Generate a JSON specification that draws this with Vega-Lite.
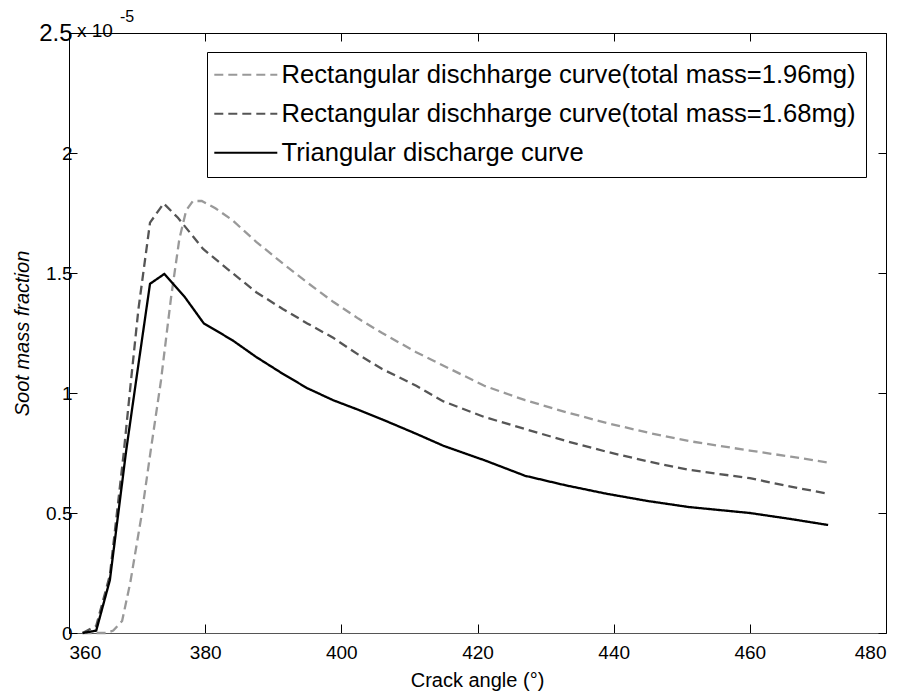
{
  "$schema": "https://vega.github.io/schema/vega-lite/v6.json",
  "width": 817,
  "height": 600,
  "autosize": {"type": "none"},
  "padding": {"left": 69, "top": 33, "right": 19, "bottom": 61},
  "background": "white",
  "config": {
    "view": {"stroke": "black", "strokeWidth": 1},
    "axis": {"labelFont": "Liberation Sans", "titleFont": "Liberation Sans", "labelColor": "black", "titleColor": "black", "titleFontWeight": "normal", "grid": false, "tickColor": "black", "domainColor": "black"},
    "axisY": {"labelFontSize": 19}
  },
  "data": {"values": [
    {"series": "Rectangular dischharge curve(total mass=1.96mg)", "angle": 362, "soot": 0},
    {"series": "Rectangular dischharge curve(total mass=1.96mg)", "angle": 365.5, "soot": 0},
    {"series": "Rectangular dischharge curve(total mass=1.96mg)", "angle": 366.5, "soot": 0.01},
    {"series": "Rectangular dischharge curve(total mass=1.96mg)", "angle": 367.8, "soot": 0.05},
    {"series": "Rectangular dischharge curve(total mass=1.96mg)", "angle": 369, "soot": 0.21},
    {"series": "Rectangular dischharge curve(total mass=1.96mg)", "angle": 370.6, "soot": 0.48},
    {"series": "Rectangular dischharge curve(total mass=1.96mg)", "angle": 372, "soot": 0.76},
    {"series": "Rectangular dischharge curve(total mass=1.96mg)", "angle": 373.5, "soot": 1.05},
    {"series": "Rectangular dischharge curve(total mass=1.96mg)", "angle": 375, "soot": 1.40},
    {"series": "Rectangular dischharge curve(total mass=1.96mg)", "angle": 376.2, "soot": 1.64},
    {"series": "Rectangular dischharge curve(total mass=1.96mg)", "angle": 377.2, "soot": 1.76},
    {"series": "Rectangular dischharge curve(total mass=1.96mg)", "angle": 378.2, "soot": 1.80},
    {"series": "Rectangular dischharge curve(total mass=1.96mg)", "angle": 379.5, "soot": 1.80},
    {"series": "Rectangular dischharge curve(total mass=1.96mg)", "angle": 381.5, "soot": 1.77},
    {"series": "Rectangular dischharge curve(total mass=1.96mg)", "angle": 384, "soot": 1.72},
    {"series": "Rectangular dischharge curve(total mass=1.96mg)", "angle": 387.5, "soot": 1.63},
    {"series": "Rectangular dischharge curve(total mass=1.96mg)", "angle": 391.4, "soot": 1.54},
    {"series": "Rectangular dischharge curve(total mass=1.96mg)", "angle": 395, "soot": 1.46},
    {"series": "Rectangular dischharge curve(total mass=1.96mg)", "angle": 398.8, "soot": 1.38},
    {"series": "Rectangular dischharge curve(total mass=1.96mg)", "angle": 402.5, "soot": 1.31},
    {"series": "Rectangular dischharge curve(total mass=1.96mg)", "angle": 406, "soot": 1.25},
    {"series": "Rectangular dischharge curve(total mass=1.96mg)", "angle": 411, "soot": 1.17},
    {"series": "Rectangular dischharge curve(total mass=1.96mg)", "angle": 416, "soot": 1.10},
    {"series": "Rectangular dischharge curve(total mass=1.96mg)", "angle": 421, "soot": 1.03},
    {"series": "Rectangular dischharge curve(total mass=1.96mg)", "angle": 427, "soot": 0.97},
    {"series": "Rectangular dischharge curve(total mass=1.96mg)", "angle": 433, "soot": 0.92},
    {"series": "Rectangular dischharge curve(total mass=1.96mg)", "angle": 439, "soot": 0.875},
    {"series": "Rectangular dischharge curve(total mass=1.96mg)", "angle": 445, "soot": 0.835},
    {"series": "Rectangular dischharge curve(total mass=1.96mg)", "angle": 451, "soot": 0.80},
    {"series": "Rectangular dischharge curve(total mass=1.96mg)", "angle": 460, "soot": 0.76},
    {"series": "Rectangular dischharge curve(total mass=1.96mg)", "angle": 466, "soot": 0.735},
    {"series": "Rectangular dischharge curve(total mass=1.96mg)", "angle": 471.5, "soot": 0.71},
    {"series": "Rectangular dischharge curve(total mass=1.68mg)", "angle": 362, "soot": 0},
    {"series": "Rectangular dischharge curve(total mass=1.68mg)", "angle": 364, "soot": 0.03},
    {"series": "Rectangular dischharge curve(total mass=1.68mg)", "angle": 366, "soot": 0.24},
    {"series": "Rectangular dischharge curve(total mass=1.68mg)", "angle": 368, "soot": 0.74},
    {"series": "Rectangular dischharge curve(total mass=1.68mg)", "angle": 369.1, "soot": 1.05},
    {"series": "Rectangular dischharge curve(total mass=1.68mg)", "angle": 370.2, "soot": 1.35},
    {"series": "Rectangular dischharge curve(total mass=1.68mg)", "angle": 371.9, "soot": 1.71},
    {"series": "Rectangular dischharge curve(total mass=1.68mg)", "angle": 373.9, "soot": 1.79},
    {"series": "Rectangular dischharge curve(total mass=1.68mg)", "angle": 376, "soot": 1.73},
    {"series": "Rectangular dischharge curve(total mass=1.68mg)", "angle": 378, "soot": 1.66},
    {"series": "Rectangular dischharge curve(total mass=1.68mg)", "angle": 379.7, "soot": 1.60},
    {"series": "Rectangular dischharge curve(total mass=1.68mg)", "angle": 384, "soot": 1.50},
    {"series": "Rectangular dischharge curve(total mass=1.68mg)", "angle": 387.5, "soot": 1.42},
    {"series": "Rectangular dischharge curve(total mass=1.68mg)", "angle": 391.4, "soot": 1.35},
    {"series": "Rectangular dischharge curve(total mass=1.68mg)", "angle": 395, "soot": 1.29},
    {"series": "Rectangular dischharge curve(total mass=1.68mg)", "angle": 398.8, "soot": 1.23},
    {"series": "Rectangular dischharge curve(total mass=1.68mg)", "angle": 402.5, "soot": 1.16},
    {"series": "Rectangular dischharge curve(total mass=1.68mg)", "angle": 406, "soot": 1.10},
    {"series": "Rectangular dischharge curve(total mass=1.68mg)", "angle": 411, "soot": 1.03},
    {"series": "Rectangular dischharge curve(total mass=1.68mg)", "angle": 415, "soot": 0.965},
    {"series": "Rectangular dischharge curve(total mass=1.68mg)", "angle": 421, "soot": 0.90},
    {"series": "Rectangular dischharge curve(total mass=1.68mg)", "angle": 427, "soot": 0.85},
    {"series": "Rectangular dischharge curve(total mass=1.68mg)", "angle": 433, "soot": 0.80},
    {"series": "Rectangular dischharge curve(total mass=1.68mg)", "angle": 439, "soot": 0.755},
    {"series": "Rectangular dischharge curve(total mass=1.68mg)", "angle": 445, "soot": 0.715},
    {"series": "Rectangular dischharge curve(total mass=1.68mg)", "angle": 451, "soot": 0.68},
    {"series": "Rectangular dischharge curve(total mass=1.68mg)", "angle": 460, "soot": 0.645},
    {"series": "Rectangular dischharge curve(total mass=1.68mg)", "angle": 466, "soot": 0.61},
    {"series": "Rectangular dischharge curve(total mass=1.68mg)", "angle": 471.5, "soot": 0.58},
    {"series": "Triangular discharge curve", "angle": 362, "soot": 0},
    {"series": "Triangular discharge curve", "angle": 364, "soot": 0.01},
    {"series": "Triangular discharge curve", "angle": 366, "soot": 0.22},
    {"series": "Triangular discharge curve", "angle": 368.4, "soot": 0.76},
    {"series": "Triangular discharge curve", "angle": 370, "soot": 1.08},
    {"series": "Triangular discharge curve", "angle": 371.9, "soot": 1.455},
    {"series": "Triangular discharge curve", "angle": 374, "soot": 1.496},
    {"series": "Triangular discharge curve", "angle": 377, "soot": 1.40},
    {"series": "Triangular discharge curve", "angle": 379.8, "soot": 1.29},
    {"series": "Triangular discharge curve", "angle": 384, "soot": 1.22},
    {"series": "Triangular discharge curve", "angle": 387.5, "soot": 1.15},
    {"series": "Triangular discharge curve", "angle": 391.4, "soot": 1.08},
    {"series": "Triangular discharge curve", "angle": 395, "soot": 1.02},
    {"series": "Triangular discharge curve", "angle": 398.8, "soot": 0.97},
    {"series": "Triangular discharge curve", "angle": 402.5, "soot": 0.93},
    {"series": "Triangular discharge curve", "angle": 406, "soot": 0.89},
    {"series": "Triangular discharge curve", "angle": 411, "soot": 0.83},
    {"series": "Triangular discharge curve", "angle": 415, "soot": 0.78},
    {"series": "Triangular discharge curve", "angle": 421, "soot": 0.72},
    {"series": "Triangular discharge curve", "angle": 427, "soot": 0.655},
    {"series": "Triangular discharge curve", "angle": 433, "soot": 0.615},
    {"series": "Triangular discharge curve", "angle": 439, "soot": 0.58},
    {"series": "Triangular discharge curve", "angle": 445, "soot": 0.55},
    {"series": "Triangular discharge curve", "angle": 451, "soot": 0.525},
    {"series": "Triangular discharge curve", "angle": 460, "soot": 0.50},
    {"series": "Triangular discharge curve", "angle": 466, "soot": 0.475},
    {"series": "Triangular discharge curve", "angle": 471.5, "soot": 0.45}
  ]},
  "resolve": {"axis": {"x": "independent", "y": "independent"}},
  "layer": [
    {
      "mark": {"type": "line", "strokeWidth": 2.3},
      "encoding": {
        "x": {"field": "angle", "type": "quantitative",
          "scale": {"domain": [360, 480], "nice": false, "zero": false},
          "axis": {"orient": "bottom", "title": "Crack angle (°)", "values": [360, 380, 400, 420, 440, 460, 480],
            "tickSize": -9, "labelFontSize": 19, "labelPadding": 19, "titleFontSize": 20,
            "domainColor": "#555", "titleX": 408, "titleY": 47, "titleBaseline": "middle", "titleAnchor": "middle"}},
        "y": {"field": "soot", "type": "quantitative",
          "scale": {"domain": [0, 2.5], "nice": false},
          "axis": {"orient": "left", "title": "Soot mass fraction", "titleFontStyle": "italic", "titleFontSize": 20,
            "values": [0, 0.5, 1, 1.5, 2, 2.5], "format": "~g", "tickSize": -8,
            "labelFontSize": {"condition": {"test": "datum.value == 2.5", "value": 24}, "value": 19},
            "labelPadding": 5, "titleX": -47, "titleY": 300, "titleBaseline": "middle", "titleAlign": "center", "titleAngle": -90}},
        "color": {"field": "series", "type": "nominal",
          "scale": {"domain": ["Rectangular dischharge curve(total mass=1.96mg)", "Rectangular dischharge curve(total mass=1.68mg)", "Triangular discharge curve"],
            "range": ["#999999", "#555555", "#000000"]},
          "legend": {"orient": "none", "legendX": 138, "legendY": 19, "title": null,
            "strokeColor": "black", "fillColor": "white", "padding": 10,
            "labelFontSize": 25.6, "labelFont": "Liberation Sans", "labelColor": "black", "labelLimit": 0,
            "symbolType": "M-3,0H3", "symbolSize": 441, "symbolStrokeWidth": 2, "symbolOffset": 16,
            "labelOffset": 23, "rowPadding": 12}},
        "strokeDash": {"field": "series", "type": "nominal",
          "scale": {"domain": ["Rectangular dischharge curve(total mass=1.96mg)", "Rectangular dischharge curve(total mass=1.68mg)", "Triangular discharge curve"],
            "range": [[9, 5], [9, 5], [1, 0]]}}
      }
    },
    {
      "mark": {"type": "point", "opacity": 0},
      "encoding": {
        "x": {"field": "angle", "type": "quantitative",
          "axis": {"orient": "top", "title": null, "labels": false, "domain": false, "values": [360, 380, 400, 420, 440, 460, 480], "tickSize": -8}},
        "y": {"field": "soot", "type": "quantitative",
          "axis": {"orient": "right", "title": null, "labels": false, "domain": false, "values": [0, 0.5, 1, 1.5, 2, 2.5], "tickSize": -8}}
      }
    },
    {
      "data": {"values": [{"angle": 360, "soot": 2.5, "t": "x 10"}]},
      "mark": {"type": "text", "align": "left", "baseline": "middle", "dx": 8, "dy": -2, "fontSize": 19, "font": "Liberation Sans", "color": "black"},
      "encoding": {
        "x": {"field": "angle", "type": "quantitative", "axis": null},
        "y": {"field": "soot", "type": "quantitative", "axis": null},
        "text": {"field": "t"}
      }
    },
    {
      "data": {"values": [{"angle": 360, "soot": 2.5, "t": "-5"}]},
      "mark": {"type": "text", "align": "left", "baseline": "middle", "dx": 51, "dy": -16, "fontSize": 16, "font": "Liberation Sans", "color": "black"},
      "encoding": {
        "x": {"field": "angle", "type": "quantitative", "axis": null},
        "y": {"field": "soot", "type": "quantitative", "axis": null},
        "text": {"field": "t"}
      }
    }
  ]
}
